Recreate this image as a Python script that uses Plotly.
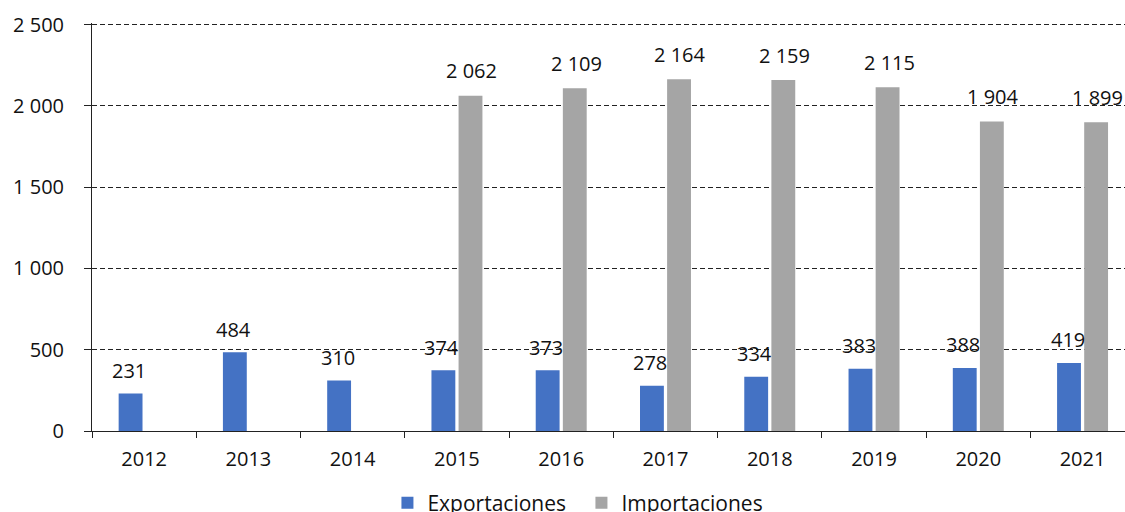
import plotly.graph_objects as go

years = ["2012", "2013", "2014", "2015", "2016", "2017", "2018", "2019", "2020", "2021"]
exportaciones = [231, 484, 310, 374, 373, 278, 334, 383, 388, 419]
importaciones = [None, None, None, 2062, 2109, 2164, 2159, 2115, 1904, 1899]
y_ticks = [0, 500, 1000, 1500, 2000, 2500]

BLUE = "#4472C4"
GREY = "#A5A5A5"
FONT = "Open Sans"
TXT = "#111111"

def fmt(v):
    return f"{v:,}".replace(",", " ")

fig = go.Figure()
fig.add_trace(go.Bar(x=years, y=exportaciones, name="Exportaciones", marker_color=BLUE,
                     marker_line_width=0))
fig.add_trace(go.Bar(x=years, y=importaciones, name="Importaciones", marker_color=GREY,
                     marker_line_width=0))

annotations = []
for i, v in enumerate(exportaciones):
    annotations.append(dict(x=i, y=v, xref="x", yref="y", text=fmt(v), showarrow=False,
                            xshift=-15, yshift=23, yanchor="middle", xanchor="center",
                            font=dict(family=FONT, size=20, color=TXT)))
for i, v in enumerate(importaciones):
    if v is None:
        continue
    annotations.append(dict(x=i, y=v, xref="x", yref="y", text=fmt(v), showarrow=False,
                            xshift=15, yshift=25, yanchor="middle", xanchor="center",
                            font=dict(family=FONT, size=20, color=TXT)))

fig.update_layout(
    width=1125, height=512,
    margin=dict(l=92, r=0, t=23.4, b=81, autoexpand=False),
    paper_bgcolor="white", plot_bgcolor="white",
    barmode="group", bargap=0.48, bargroupgap=0.12,
    font=dict(family=FONT, size=20, color=TXT),
    annotations=annotations,
    showlegend=True,
    legend=dict(orientation="h", x=0.286, y=-0.177, xanchor="left", yanchor="middle",
                font=dict(family=FONT, size=21, color=TXT),
                itemwidth=30, traceorder="normal", entrywidth=149, entrywidthmode="pixels"),
)
fig.update_xaxes(
    type="category", range=[-0.5, 9.407], automargin=False,
    showline=True, linecolor="#222", linewidth=1,
    ticks="outside", ticklen=6, tickcolor="#222", tickson="boundaries",
    ticklabelstandoff=10, showgrid=False,
)
fig.update_yaxes(
    range=[0, 2510], tickvals=y_ticks, ticktext=[fmt(t) for t in y_ticks], automargin=False,
    showline=True, linecolor="#222", linewidth=1,
    ticks="outside", ticklen=7, tickcolor="#222",
    showgrid=True, gridcolor="#222", gridwidth=1, griddash="5px,3px",
    zeroline=False, ticklabelstandoff=16,
)

fig.write_html(
    "out.html",
    config={"displayModeBar": False},
    post_script="document.body.style.margin='0';document.body.style.overflow='hidden';",
)
